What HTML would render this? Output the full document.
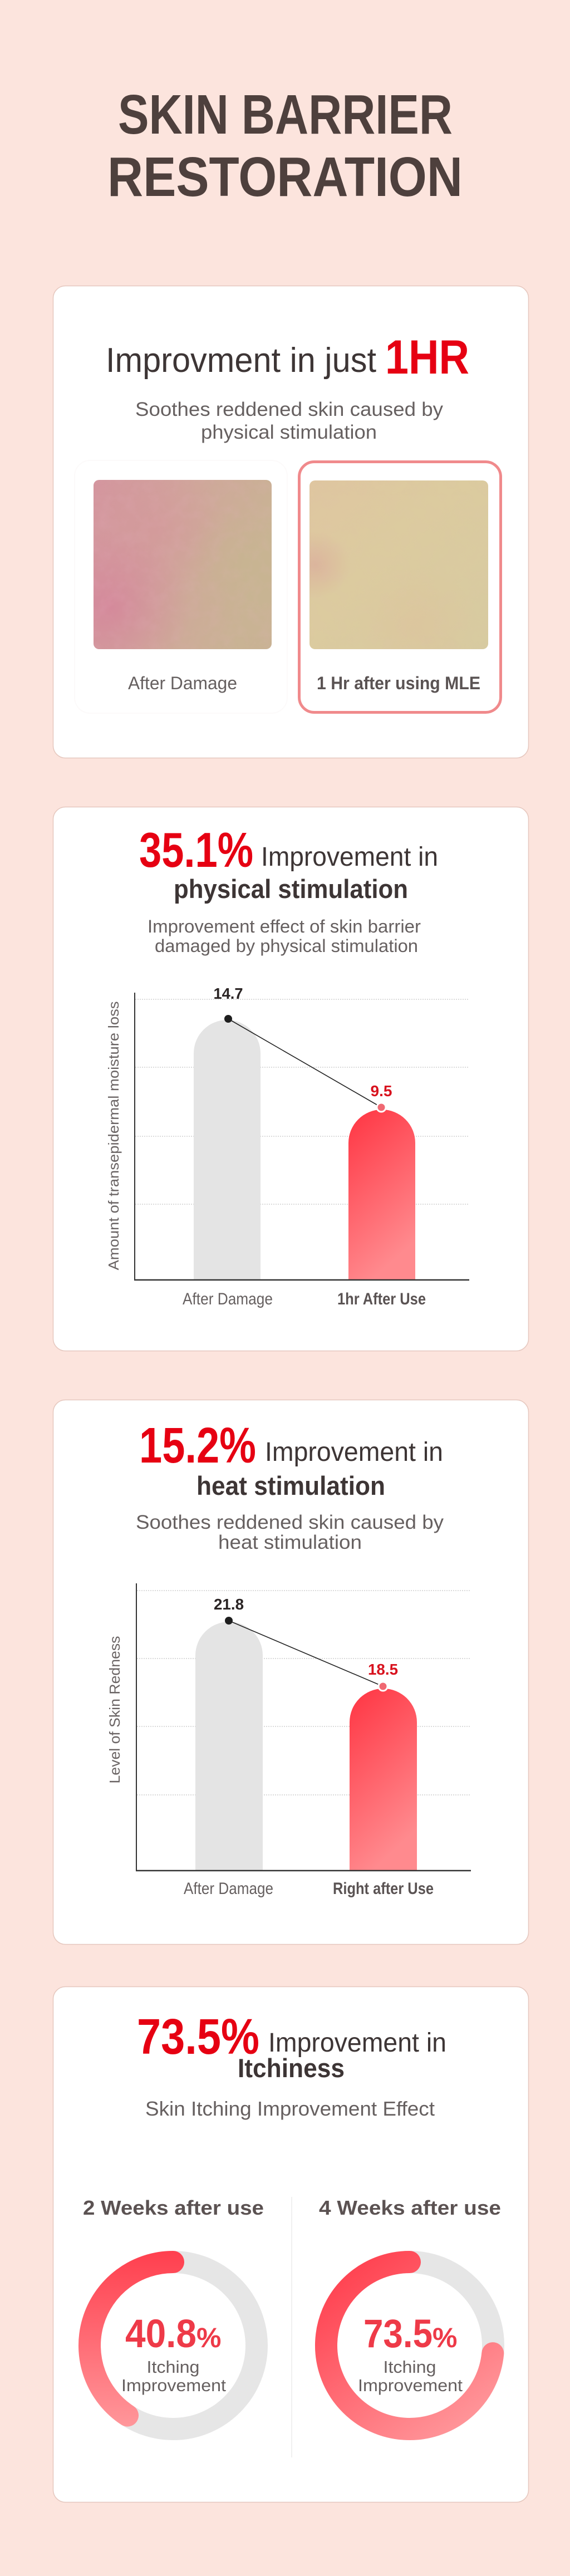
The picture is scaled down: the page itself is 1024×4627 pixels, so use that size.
<!DOCTYPE html>
<html>
<head>
<meta charset="utf-8">
<style>
html,body{margin:0;padding:0;background:#fce4dd;}
svg{display:block;}
</style>
</head>
<body>
<svg width="1024" height="4627" viewBox="0 0 1024 4627" xmlns="http://www.w3.org/2000/svg" font-family="'Liberation Sans', Arial, sans-serif">
<defs>
  <linearGradient id="barRed" x1="0" y1="0" x2="0.35" y2="1">
    <stop offset="0" stop-color="#ff3442"/>
    <stop offset="1" stop-color="#ff8a8e"/>
  </linearGradient>
  <linearGradient id="donut1" gradientUnits="userSpaceOnUse" x1="0" y1="4043" x2="0" y2="4383">
    <stop offset="0" stop-color="#ff3f4e"/>
    <stop offset="1" stop-color="#ff9da0"/>
  </linearGradient>
  <linearGradient id="donut2" gradientUnits="userSpaceOnUse" x1="620" y1="4060" x2="860" y2="4380">
    <stop offset="0" stop-color="#ff3f4e"/>
    <stop offset="1" stop-color="#ff9da0"/>
  </linearGradient>
  <!-- skin textures -->
  <linearGradient id="skinL" x1="0" y1="0" x2="1" y2="0.3">
    <stop offset="0" stop-color="#d4959e"/>
    <stop offset="0.5" stop-color="#d0a69b"/>
    <stop offset="1" stop-color="#c9b394"/>
  </linearGradient>
  <radialGradient id="skinLb" cx="0.1" cy="0.75" r="0.45">
    <stop offset="0" stop-color="#d8709a" stop-opacity="0.45"/>
    <stop offset="1" stop-color="#d8709a" stop-opacity="0"/>
  </radialGradient>
  <radialGradient id="skinLc" cx="0.35" cy="0.3" r="0.4">
    <stop offset="0" stop-color="#d68f9a" stop-opacity="0.4"/>
    <stop offset="1" stop-color="#d68f9a" stop-opacity="0"/>
  </radialGradient>
  <radialGradient id="skinLd" cx="0.85" cy="0.5" r="0.35">
    <stop offset="0" stop-color="#c6b68f" stop-opacity="0.6"/>
    <stop offset="1" stop-color="#c6b68f" stop-opacity="0"/>
  </radialGradient>
  <linearGradient id="skinR" x1="0" y1="0" x2="1" y2="1">
    <stop offset="0" stop-color="#dfc6a0"/>
    <stop offset="0.4" stop-color="#dccb9f"/>
    <stop offset="1" stop-color="#d7cba0"/>
  </linearGradient>
  <radialGradient id="skinRb" cx="0.03" cy="0.5" r="0.2">
    <stop offset="0" stop-color="#d9a09a" stop-opacity="0.5"/>
    <stop offset="1" stop-color="#d9a09a" stop-opacity="0"/>
  </radialGradient>
  <radialGradient id="skinRc" cx="0.6" cy="0.85" r="0.35">
    <stop offset="0" stop-color="#e0bd9a" stop-opacity="0.35"/>
    <stop offset="1" stop-color="#e0bd9a" stop-opacity="0"/>
  </radialGradient>
  <filter id="noise" x="0" y="0" width="100%" height="100%">
    <feTurbulence type="fractalNoise" baseFrequency="0.045" numOctaves="3" seed="7" result="n"/>
    <feColorMatrix in="n" type="matrix" values="0 0 0 0 0.8  0 0 0 0 0.45  0 0 0 0 0.55  0.9 0 0 0 -0.35"/>
  </filter>
</defs>

<!-- background -->
<rect x="0" y="0" width="1024" height="4627" fill="#fce4dd"/>

<!-- Title -->
<text x="212" y="240" font-size="100" font-weight="bold" fill="#4e403d" textLength="601" lengthAdjust="spacingAndGlyphs">SKIN BARRIER</text>
<text x="193" y="352" font-size="100" font-weight="bold" fill="#4e403d" textLength="638" lengthAdjust="spacingAndGlyphs">RESTORATION</text>

<!-- ================= CARD 1 ================= -->
<rect x="95.5" y="513.5" width="854" height="848" rx="22" fill="#ffffff" stroke="#e6c8bf" stroke-width="1.5"/>
<text x="190" y="668" font-size="62" fill="#3d3535" textLength="486" lengthAdjust="spacingAndGlyphs">Improvment in just</text>
<text x="692" y="671" font-size="86" font-weight="bold" fill="#e60012" textLength="151" lengthAdjust="spacingAndGlyphs">1HR</text>
<text x="243" y="747" font-size="35" fill="#666060" textLength="553" lengthAdjust="spacingAndGlyphs">Soothes reddened skin caused by</text>
<text x="361" y="788" font-size="35" fill="#666060" textLength="316" lengthAdjust="spacingAndGlyphs">physical stimulation</text>

<!-- faint left frame -->
<rect x="134" y="827" width="382" height="454" rx="28" fill="none" stroke="#fcfafa" stroke-width="2"/>
<!-- left image -->
<g>
  <clipPath id="clipL"><rect x="168" y="862" width="320" height="304" rx="10"/></clipPath>
  <g clip-path="url(#clipL)">
    <rect x="168" y="862" width="320" height="304" fill="url(#skinL)"/>
    <rect x="168" y="862" width="320" height="304" fill="url(#skinLc)"/>
    <rect x="168" y="862" width="320" height="304" fill="url(#skinLb)"/>
    <rect x="168" y="862" width="320" height="304" fill="url(#skinLd)"/>
    <rect x="168" y="862" width="320" height="304" filter="url(#noise)" opacity="0.3"/>
  </g>
</g>
<!-- right image -->
<g>
  <clipPath id="clipR"><rect x="556" y="863" width="321" height="303" rx="10"/></clipPath>
  <g clip-path="url(#clipR)">
    <rect x="556" y="863" width="321" height="303" fill="url(#skinR)"/>
    <rect x="556" y="863" width="321" height="303" fill="url(#skinRb)"/>
    <rect x="556" y="863" width="321" height="303" fill="url(#skinRc)"/>
    <rect x="556" y="863" width="321" height="303" filter="url(#noise)" opacity="0.12"/>
  </g>
</g>
<rect x="537.5" y="829.5" width="362" height="450" rx="27" fill="none" stroke="#f08a8c" stroke-width="5"/>
<text x="230" y="1238" font-size="32" fill="#666060" textLength="196" lengthAdjust="spacingAndGlyphs">After Damage</text>
<text x="569" y="1238" font-size="32" font-weight="bold" fill="#5a5353" textLength="294" lengthAdjust="spacingAndGlyphs">1 Hr after using MLE</text>

<!-- ================= CARD 2 ================= -->
<rect x="95.5" y="1449.5" width="854" height="977" rx="22" fill="#ffffff" stroke="#e6c8bf" stroke-width="1.5"/>
<text x="250" y="1557" font-size="88" font-weight="bold" fill="#e60012" textLength="205" lengthAdjust="spacingAndGlyphs">35.1%</text>
<text x="469" y="1555" font-size="48" fill="#3d3535" textLength="318" lengthAdjust="spacingAndGlyphs">Improvement in</text>
<text x="312" y="1613" font-size="47" font-weight="bold" fill="#3d3535" textLength="421" lengthAdjust="spacingAndGlyphs">physical stimulation</text>
<text x="265" y="1675" font-size="32" fill="#666060" textLength="491" lengthAdjust="spacingAndGlyphs">Improvement effect of skin barrier</text>
<text x="278" y="1710" font-size="32" fill="#666060" textLength="473" lengthAdjust="spacingAndGlyphs">damaged by physical stimulation</text>

<!-- chart 1 -->
<g stroke="#cfcfcf" stroke-width="1.5" stroke-dasharray="2 2">
  <line x1="243" y1="1795" x2="843" y2="1795"/>
  <line x1="243" y1="1917" x2="843" y2="1917"/>
  <line x1="243" y1="2041" x2="843" y2="2041"/>
  <line x1="243" y1="2163" x2="843" y2="2163"/>
</g>
<path d="M348 2299 L348 1892 A60 60 0 0 1 468 1892 L468 2299 Z" fill="#e4e4e4"/>
<path d="M626 2299 L626 2053 A60 60 0 0 1 746 2053 L746 2299 Z" fill="url(#barRed)"/>
<line x1="242" y1="1783" x2="242" y2="2299" stroke="#333" stroke-width="2"/>
<line x1="241" y1="2299" x2="843" y2="2299" stroke="#333" stroke-width="2.5"/>
<line x1="410" y1="1830" x2="685" y2="1989" stroke="#222" stroke-width="1.6"/>
<circle cx="410" cy="1830" r="7" fill="#1e1e1e"/>
<circle cx="685" cy="1989" r="8" fill="#f06872" stroke="#ffffff" stroke-width="3"/>
<text x="410" y="1794" font-size="28" font-weight="bold" fill="#2a2424" text-anchor="middle" textLength="53" lengthAdjust="spacingAndGlyphs">14.7</text>
<text x="685" y="1969" font-size="28" font-weight="bold" fill="#d8121e" text-anchor="middle" textLength="39" lengthAdjust="spacingAndGlyphs">9.5</text>
<text transform="translate(213 2040) rotate(-90)" x="0" y="0" font-size="26" fill="#6a6464" text-anchor="middle" textLength="483" lengthAdjust="spacingAndGlyphs">Amount of transepidermal moisture loss</text>
<text x="328" y="2343" font-size="30" fill="#666060" textLength="162" lengthAdjust="spacingAndGlyphs">After Damage</text>
<text x="606" y="2343" font-size="30" font-weight="bold" fill="#5a5353" textLength="159" lengthAdjust="spacingAndGlyphs">1hr After Use</text>

<!-- ================= CARD 3 ================= -->
<rect x="95.5" y="2514.5" width="854" height="978" rx="22" fill="#ffffff" stroke="#e6c8bf" stroke-width="1.5"/>
<text x="250" y="2627" font-size="90" font-weight="bold" fill="#e60012" textLength="210" lengthAdjust="spacingAndGlyphs">15.2%</text>
<text x="476" y="2624" font-size="48" fill="#3d3535" textLength="320" lengthAdjust="spacingAndGlyphs">Improvement in</text>
<text x="353" y="2685" font-size="47" font-weight="bold" fill="#3d3535" textLength="339" lengthAdjust="spacingAndGlyphs">heat stimulation</text>
<text x="244" y="2746" font-size="35" fill="#666060" textLength="553" lengthAdjust="spacingAndGlyphs">Soothes reddened skin caused by</text>
<text x="392" y="2782" font-size="35" fill="#666060" textLength="258" lengthAdjust="spacingAndGlyphs">heat stimulation</text>

<!-- chart 2 -->
<g stroke="#cfcfcf" stroke-width="1.5" stroke-dasharray="2 2">
  <line x1="246" y1="2857" x2="846" y2="2857"/>
  <line x1="246" y1="2979" x2="846" y2="2979"/>
  <line x1="246" y1="3101" x2="846" y2="3101"/>
  <line x1="246" y1="3224" x2="846" y2="3224"/>
</g>
<path d="M351 3360 L351 2973.5 A60.5 60.5 0 0 1 472 2973.5 L472 3360 Z" fill="#e4e4e4"/>
<path d="M628 3360 L628 3093.5 A60.5 60.5 0 0 1 749 3093.5 L749 3360 Z" fill="url(#barRed)"/>
<line x1="245" y1="2844" x2="245" y2="3360" stroke="#333" stroke-width="2"/>
<line x1="244" y1="3360" x2="846" y2="3360" stroke="#333" stroke-width="2.5"/>
<line x1="411" y1="2911" x2="688" y2="3029" stroke="#222" stroke-width="1.6"/>
<circle cx="411" cy="2911" r="7" fill="#1e1e1e"/>
<circle cx="688" cy="3029" r="8" fill="#f06872" stroke="#ffffff" stroke-width="3"/>
<text x="411" y="2891" font-size="28" font-weight="bold" fill="#2a2424" text-anchor="middle" textLength="54" lengthAdjust="spacingAndGlyphs">21.8</text>
<text x="688" y="3008" font-size="28" font-weight="bold" fill="#d8121e" text-anchor="middle" textLength="54" lengthAdjust="spacingAndGlyphs">18.5</text>
<text transform="translate(215 3071) rotate(-90)" x="0" y="0" font-size="26" fill="#6a6464" text-anchor="middle" textLength="265" lengthAdjust="spacingAndGlyphs">Level of Skin Redness</text>
<text x="330" y="3402" font-size="30" fill="#666060" textLength="161" lengthAdjust="spacingAndGlyphs">After Damage</text>
<text x="598" y="3402" font-size="30" font-weight="bold" fill="#5a5353" textLength="181" lengthAdjust="spacingAndGlyphs">Right after Use</text>

<!-- ================= CARD 4 ================= -->
<rect x="95.5" y="3568.5" width="854" height="926" rx="22" fill="#ffffff" stroke="#e6c8bf" stroke-width="1.5"/>
<text x="246" y="3689" font-size="90" font-weight="bold" fill="#e60012" textLength="220" lengthAdjust="spacingAndGlyphs">73.5%</text>
<text x="482" y="3685" font-size="48" fill="#3d3535" textLength="320" lengthAdjust="spacingAndGlyphs">Improvement in</text>
<text x="427" y="3731" font-size="47" font-weight="bold" fill="#3d3535" textLength="192" lengthAdjust="spacingAndGlyphs">Itchiness</text>
<text x="261" y="3800" font-size="36" fill="#666060" textLength="520" lengthAdjust="spacingAndGlyphs">Skin Itching Improvement Effect</text>

<text x="149" y="3978" font-size="36" font-weight="bold" fill="#5b5252" textLength="325" lengthAdjust="spacingAndGlyphs">2 Weeks after use</text>
<text x="573" y="3978" font-size="36" font-weight="bold" fill="#5b5252" textLength="327" lengthAdjust="spacingAndGlyphs">4 Weeks after use</text>
<line x1="524" y1="3946" x2="524" y2="4414" stroke="#ececec" stroke-width="1.5"/>

<!-- donut 1 -->
<circle cx="311" cy="4213" r="150" fill="none" stroke="#e6e6e6" stroke-width="40"/>
<path d="M311 4063 A150 150 0 0 0 229 4338.6" fill="none" stroke="url(#donut1)" stroke-width="40" stroke-linecap="round"/>
<text x="225" y="4216" fill="#ee3a48" font-weight="bold"><tspan font-size="71" textLength="128" lengthAdjust="spacingAndGlyphs">40.8</tspan><tspan font-size="50">%</tspan></text>
<text x="311" y="4262" font-size="31" fill="#666060" text-anchor="middle" textLength="95" lengthAdjust="spacingAndGlyphs">Itching</text>
<text x="312" y="4295" font-size="31" fill="#666060" text-anchor="middle" textLength="188" lengthAdjust="spacingAndGlyphs">Improvement</text>

<!-- donut 2 -->
<circle cx="736" cy="4213" r="150" fill="none" stroke="#e6e6e6" stroke-width="40"/>
<path d="M736 4063 A150 150 0 1 0 885.3 4227.1" fill="none" stroke="url(#donut2)" stroke-width="40" stroke-linecap="round"/>
<text x="653" y="4216" fill="#ee3a48" font-weight="bold"><tspan font-size="71" textLength="124" lengthAdjust="spacingAndGlyphs">73.5</tspan><tspan font-size="50">%</tspan></text>
<text x="736" y="4262" font-size="31" fill="#666060" text-anchor="middle" textLength="95" lengthAdjust="spacingAndGlyphs">Itching</text>
<text x="737" y="4295" font-size="31" fill="#666060" text-anchor="middle" textLength="188" lengthAdjust="spacingAndGlyphs">Improvement</text>
</svg>
</body>
</html>
